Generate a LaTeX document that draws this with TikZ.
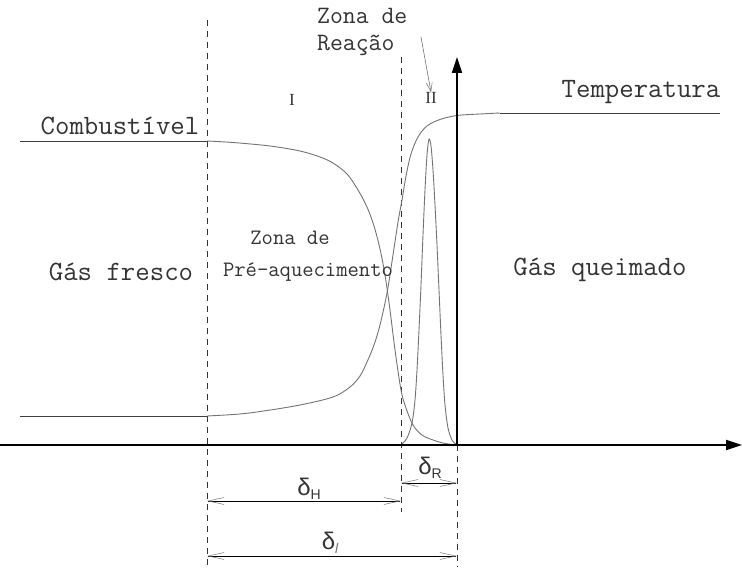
\documentclass[tikz,border=0pt]{standalone}
\usepackage{fontspec}
\setmainfont{Liberation Serif}
\setmonofont{Latin Modern Mono}
\newfontfamily\dsans{Liberation Sans}
\usetikzlibrary{arrows.meta}
\definecolor{txt}{gray}{0.2}
\definecolor{crv}{gray}{0.45}
\tikzset{
  big/.style={font=\ttfamily\fontsize{28}{27}\selectfont, text=txt, inner sep=0pt},
  reac/.style={font=\ttfamily\fontsize{25}{24}\selectfont, text=txt, inner sep=0pt, anchor=base west},
  small/.style={font=\ttfamily\fontsize{22}{22}\selectfont, text=txt, inner sep=0pt},
  roman/.style={font=\fontsize{17}{17}\selectfont, text=txt, inner sep=0pt},
  dlab/.style={font=\dsans\fontsize{24}{24}\selectfont, text=txt, inner sep=0pt},
  dline/.style={dash pattern=on 6pt off 5pt, line width=0.9pt, draw=black!80},
  curve/.style={draw=crv, line width=0.9pt},
  axis/.style={line width=1.8pt, -{Triangle[length=16pt,width=10pt]}},
  dim/.style={line width=0.9pt, {Straight Barb[length=16pt,width=7pt,line width=0.5pt,color=crv]}-{Straight Barb[length=16pt,width=7pt,line width=0.5pt,color=crv]}},
}
\begin{document}
\begin{tikzpicture}[x=1pt,y=-1pt]
\useasboundingbox (0,0) rectangle (742,569);
% coordinates
\coordinate (o) at (0,445);
\coordinate (xend) at (742,445);
\coordinate (ybase) at (457,445);
\coordinate (ytop) at (457,57);
\coordinate (d1t) at (207,20);
\coordinate (d1b) at (207,566);
\coordinate (d2t) at (401,57);
\coordinate (d2b) at (401,512);
\coordinate (d3b) at (457,567);
% dashed lines
\draw[dline] (d1t) -- (d1b);
\draw[dline] (d2t) -- (d2b);
\draw[dline] (ybase) -- (d3b);
% fuel curve
\coordinate (fs) at (20,141);
\coordinate (fm) at (207,141);
\draw[line width=0.9pt, draw=black!75] (fs) -- (fm);
\draw[curve] plot[smooth, tension=0.55] coordinates {(207,141) (233,142.5) (270,146) (300,151) (320,157) (333,163) (347,174) (358,190) (367,207) (374,226) (380,249) (385,275) (390,310) (395,350) (401,390) (406,408) (413,425) (422,435) (433,440) (445,443.5) (457,445)};
% temperature curve
\coordinate (ts) at (20,416);
\coordinate (tm) at (207,416);
\draw[line width=0.9pt, draw=black!75] (ts) -- (tm);
\draw[curve] plot[smooth, tension=0.55] coordinates {(207,416) (240,414) (267,410.5) (300,405) (333,397) (350,387) (360,376) (367,362) (374,345) (380,325) (387,293) (393,255) (398,222) (402,200) (406,176) (411,154) (418,137) (427,126) (440,119.5) (457,115.5) (480,114) (500,113)};
\coordinate (te1) at (500,113);
\coordinate (te2) at (720,113);
\draw[line width=0.9pt, draw=black!75] (te1) -- (te2);
% reaction peak
\draw[curve] plot[smooth, tension=0.5] coordinates {(401,445) (407,438) (412,423) (415,400) (417,370) (419,330) (421,285) (423,235) (425,190) (427,155) (429,139) (431,146) (433,170) (435,205) (437,245) (439,290) (441,335) (443,375) (445,405) (448,428) (452,440) (457,445)};
% axes
\draw[axis] (o) -- (xend);
\draw[axis] (ybase) -- (ytop);
% labels
\node[big] (comb) at (120,126) {Combustível};
\node[big] (temp) at (641,92) {Temperatura};
\node[big] (fresco) at (121,272) {Gás fresco};
\node[big] (queim) at (600,270) {Gás queimado};
\node[small] (zpre1) at (290,238) {Zona de};
\node[small] (zpre2) at (308,272) {Pré-aquecimento};
\node[reac] (zreac1) at (317,24) {Zona de};
\node[reac] (zreac2) at (317,51) {Reação};
\node[roman] (r1) at (292,100) {I};
\node[roman] (r2) at (431,98) {II};
\coordinate (za) at (421,37);
\draw[draw=crv, line width=0.6pt, -{Straight Barb[length=9pt,width=6pt,line width=0.5pt]}] (za) -- (r2.north);
% dimension lines
\coordinate (h1) at (207,501);
\coordinate (h2) at (401,501);
\coordinate (r1a) at (401,483);
\coordinate (r2a) at (457,483);
\coordinate (l1) at (207,556);
\coordinate (l2) at (457,556);
\draw[dim] (h1) -- (h2);
\draw[dim] (r1a) -- (r2a);
\draw[dim] (l1) -- (l2);
\node[dlab] (dh) at (309,489) {δ\raisebox{-4pt}{\fontsize{14}{14}\selectfont H}};
\node[dlab] (dr) at (430,468) {δ\raisebox{-4pt}{\fontsize{14}{14}\selectfont R}};
\node[dlab] (dl) at (330,543) {δ\raisebox{-4pt}{\fontsize{14}{14}\selectfont\color{crv}\itshape l}};
\end{tikzpicture}
\end{document}
